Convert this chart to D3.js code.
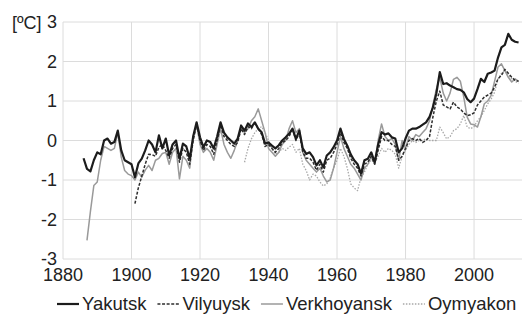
<!DOCTYPE html>
<html lang="en">
<head>
<meta charset="utf-8">
<title>Yakutia temperature anomalies</title>
<style>
  body { margin: 0; background: #fff; font-family: "Liberation Sans", Arial, Helvetica, sans-serif; }
  svg { display: block; }
  .grid line { stroke: #dcdcdc; stroke-width: 1; }
  text { fill: #222; font-size: 18px; }
  .legend text { font-size: 18.5px; }
</style>
<script src="https://cdn.jsdelivr.net/npm/d3@7"></script>
</head>
<body>
<script>
// anomalies in degC, one value per year
var yakutskStart = 1886;
var yakutsk = [
  -0.45, -0.72, -0.78, -0.5, -0.3, -0.35, 0.0, 0.05, -0.08, -0.04,
  0.25, -0.25, -0.5, -0.55, -0.6, -0.93, -0.58, -0.46, -0.25, 0.0,
  -0.1, -0.3, 0.13, -0.2, 0.05, -0.38, -0.1, 0.0, -0.46, -0.08,
  -0.15, -0.46, 0.1, 0.46, 0.08, -0.17, 0.0, -0.04, -0.2, 0.1,
  0.46, 0.2, 0.08, 0.0, -0.08, 0.05, 0.38, 0.25, 0.43, 0.34,
  0.46, 0.3, 0.21, -0.08, -0.05, -0.13, -0.2, -0.12, 0.0, 0.08,
  0.17, 0.3, 0.04, 0.25, -0.2, -0.34, -0.3, -0.42, -0.63, -0.5,
  -0.68, -0.38, -0.3, -0.17, 0.0, 0.3, 0.04, -0.13, -0.35, -0.5,
  -0.6, -0.84, -0.5, -0.46, -0.3, -0.55, -0.1, 0.21, 0.15, 0.18,
  0.08, 0.05, -0.3, -0.2, 0.05, 0.25, 0.3, 0.3, 0.34, 0.4,
  0.46, 0.6, 0.84, 1.19, 1.73, 1.43, 1.45, 1.39, 1.35, 1.3,
  1.28, 1.22, 1.05, 0.97, 1.06, 1.3, 1.56, 1.48, 1.69, 1.72,
  1.77, 2.1, 2.36, 2.42, 2.7, 2.55, 2.5, 2.48
];

var vilyuyskStart = 1901;
var vilyuysk = [
  -1.6, -1.2, -0.9, -0.6, -0.35, -0.36, -0.4, -0.17, -0.1, -0.25,
  -0.45, -0.2, -0.1, -0.55, -0.2, -0.3, -0.6, 0.0, 0.4, 0.0,
  -0.25, -0.1, -0.15, -0.35, 0.0, 0.4, 0.1, 0.0, -0.1, -0.15,
  -0.05, 0.3, 0.15, 0.35, 0.3, 0.45, 0.3, 0.15, -0.15, -0.1,
  -0.2, -0.3, -0.2, -0.05, 0.0, 0.1, 0.3, 0.0, 0.2, -0.3,
  -0.45, -0.45, -0.55, -0.75, -0.6, -0.8, -0.5, -0.45, -0.3, -0.1,
  0.2, -0.05, -0.2, -0.45, -0.6, -0.7, -0.9, -0.6, -0.55, -0.4,
  -0.6, -0.25, 0.1, 0.0, 0.0, -0.1, -0.15, -0.5, -0.4, -0.2,
  0.0, 0.05, 0.0, 0.05, -0.05, 0.0, 0.1, 0.6, 1.0, 1.25,
  0.9, 0.85, 0.8, 0.97, 0.85, 0.8, 0.7, 0.63, 0.65, 0.7,
  0.9, 1.0, 1.1, 1.15, 1.2, 1.35, 1.56, 1.65, 1.8, 1.7,
  1.6, 1.52, 1.5
];

var verkhoyanskStart = 1887;
var verkhoyansk = [
  -2.53, -1.8, -1.14, -1.05, -0.5, -0.15, -0.2, -0.25, -0.2, 0.2,
  -0.42, -0.76, -0.85, -0.89, -1.0, -0.8, -0.93, -0.75, -0.63, -0.76,
  -0.5, -0.45, -0.33, -0.3, -0.6, -0.3, -0.2, -0.97, -0.4, -0.5,
  -0.7, 0.1, 0.4, -0.1, -0.3, -0.2, -0.3, -0.5, -0.1, 0.3,
  -0.1, -0.3, -0.45, -0.25, 0.0, 0.3, 0.2, 0.3, 0.5, 0.6,
  0.8, 0.5, 0.2, -0.2, -0.3, -0.4, -0.3, -0.1, 0.0, 0.3,
  0.5, 0.2, 0.3, -0.3, -0.5, -0.6, -0.7, -0.8, -0.7, -0.9,
  -1.05, -1.0, -0.7, -0.3, 0.1, -0.2, -0.4, -0.6, -0.7, -0.85,
  -1.0, -0.7, -0.6, -0.4, -0.6, 0.0, 0.42, 0.1, 0.0, 0.05,
  -0.1, -0.5, 0.0, -0.2, 0.1, 0.0, 0.15, 0.1, 0.2, 0.3,
  0.5, 0.9, 1.3, 1.6, 1.2, 1.0, 1.2, 1.55, 1.6, 1.5,
  1.1, 0.59, 0.42, 0.4, 0.34, 0.6, 0.93, 1.0, 1.14, 1.5,
  1.86, 1.94, 1.77, 1.6, 1.48, 1.56, 1.5
];

var oymyakonStart = 1933;
var oymyakon = [
  -0.55, -0.2, 0.04, 0.2, 0.3, 0.35, 0.2, 0.0, -0.2, -0.35,
  -0.3, -0.2, -0.25, -0.17, -0.1, -0.3, -0.2, -0.6, -0.76, -1.0,
  -0.85, -0.9, -1.05, -1.15, -1.1, -0.95, -0.7, -0.5, -0.2, -0.4,
  -0.7, -1.1, -1.2, -1.27, -0.93, -0.8, -0.6, -0.5, -0.55, -0.4,
  -0.2, -0.3, -0.2, -0.25, -0.35, -0.7, -0.4, -0.25, -0.1, 0.0,
  -0.05, 0.0, 0.0, 0.05, 0.0, 0.0, 0.0, 0.34, 0.2, 0.04,
  0.1, 0.25, 0.3, 0.42, 0.63, 0.34, 0.3, 0.35, 0.5, 0.6,
  0.76, 0.93, 1.05, 1.22, 1.56, 1.7, 1.77, 1.65, 1.56, 1.5,
  1.45
];

var names = ["Yakutsk", "Vilyuysk", "Verkhoyansk", "Oymyakon"];
var xTicks = [1880, 1900, 1920, 1940, 1960, 1980, 2000];
var yTicks = [-3, -2, -1, 0, 1, 2, 3];

var width = 522, height = 314;

var x = d3.scaleLinear().domain([1880, 2014]).range([63, 522]);
var y = d3.scaleLinear().domain([-3, 3]).range([259, 22]);

var svg = d3.select("body").append("svg")
  .attr("width", width)
  .attr("height", height);

// grid
var grid = svg.append("g").attr("class", "grid");
grid.selectAll(".h").data(yTicks).enter().append("line")
  .attr("x1", x(1880)).attr("x2", width)
  .attr("y1", function(d) { return y(d); })
  .attr("y2", function(d) { return y(d); });
grid.selectAll(".v").data(xTicks).enter().append("line")
  .attr("x1", function(d) { return x(d); })
  .attr("x2", function(d) { return x(d); })
  .attr("y1", y(3)).attr("y2", y(-3));

// tick labels
svg.selectAll(".yl").data(yTicks).enter().append("text")
  .attr("x", 57)
  .attr("y", function(d) { return y(d) + 6; })
  .attr("text-anchor", "end")
  .text(function(d) { return d; });

svg.append("text")
  .attr("x", 12).attr("y", y(3) + 7)
  .text("[ºC]");

svg.selectAll(".xl").data(xTicks).enter().append("text")
  .attr("x", function(d) { return x(d); })
  .attr("y", 281)
  .attr("text-anchor", "middle")
  .text(function(d) { return d; });

// series
function toPoints(start, vals) {
  return vals.map(function(v, i) { return [start + i, v]; });
}

var styles = {
  Yakutsk:     { color: "#1c1c1c", w: 2.2, dash: null },
  Vilyuysk:    { color: "#2e2e2e", w: 1.5, dash: "3,1.6" },
  Verkhoyansk: { color: "#9a9a9a", w: 1.5, dash: null },
  Oymyakon:    { color: "#a8a8a8", w: 1.3, dash: "1.5,1.5" }
};

var series = [
  { name: "Oymyakon", pts: toPoints(oymyakonStart, oymyakon) },
  { name: "Verkhoyansk", pts: toPoints(verkhoyanskStart, verkhoyansk) },
  { name: "Vilyuysk", pts: toPoints(vilyuyskStart, vilyuysk) },
  { name: "Yakutsk", pts: toPoints(yakutskStart, yakutsk) }
];

var line = d3.line()
  .x(function(d) { return x(d[0]); })
  .y(function(d) { return y(d[1]); });

svg.selectAll(".series").data(series).enter().append("path")
  .attr("d", function(d) { return line(d.pts); })
  .attr("fill", "none")
  .attr("stroke", function(d) { return styles[d.name].color; })
  .attr("stroke-width", function(d) { return styles[d.name].w; })
  .attr("stroke-dasharray", function(d) { return styles[d.name].dash; })
  .attr("stroke-linejoin", "round");

// legend, laid out left to right
var legend = svg.append("g").attr("class", "legend");
var lx = 57, ly = 304;
names.forEach(function(n) {
  var s = styles[n];
  legend.append("line")
    .attr("x1", lx).attr("x2", lx + 22)
    .attr("y1", ly).attr("y2", ly)
    .attr("stroke", s.color)
    .attr("stroke-width", s.w)
    .attr("stroke-dasharray", s.dash);
  var t = legend.append("text")
    .attr("x", lx + 25).attr("y", 310)
    .text(n);
  lx += 25 + t.node().getComputedTextLength() + 11;
});
</script>
</body>
</html>
